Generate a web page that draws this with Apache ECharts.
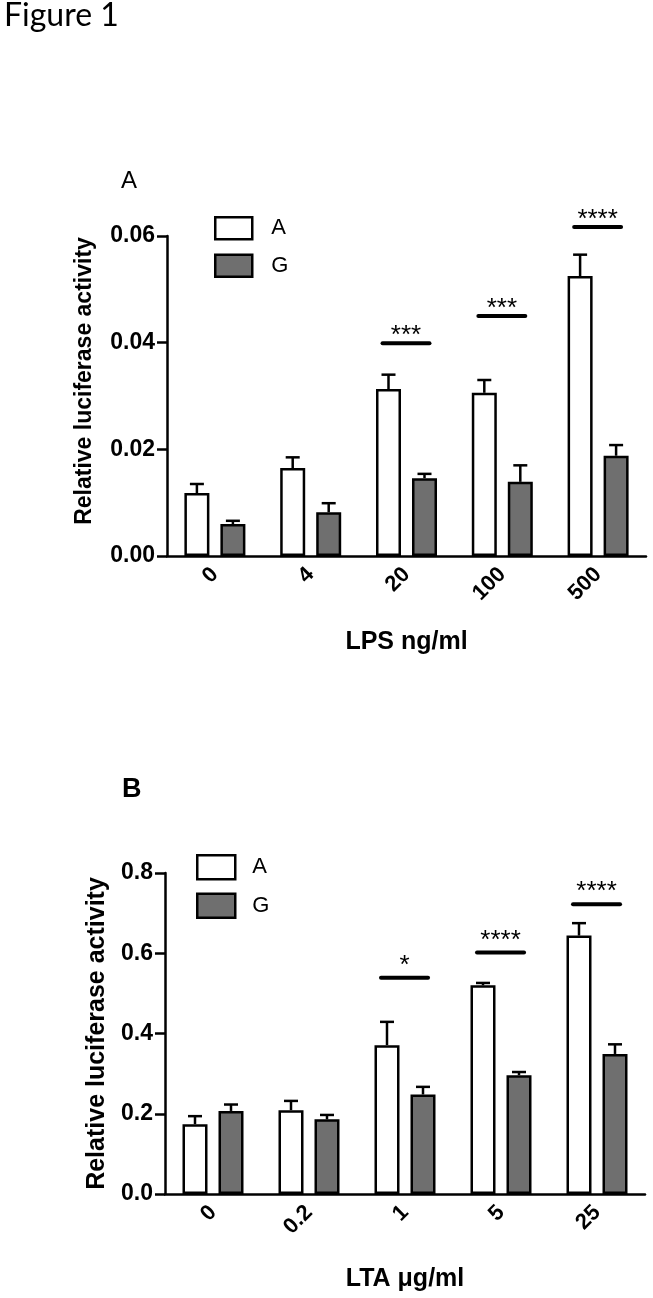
<!DOCTYPE html>
<html>
<head>
<meta charset="utf-8">
<title>Figure 1</title>
<script src="https://cdn.jsdelivr.net/npm/echarts@6/dist/echarts.min.js"></script>
<style>
  html, body { margin: 0; padding: 0; background: #fff; }
  #chart { width: 653px; height: 1298px; }
</style>
</head>
<body>
<div id="chart"></div>
<script>
// Panel A - LPS ng/ml
const lpsDoses = ['0', '4', '20', '100', '500']
const lpsMeanA = [0.0118, 0.0165, 0.0313, 0.0306, 0.0525]
const lpsErrA = [0.0017, 0.0020, 0.0027, 0.0024, 0.0040]
const lpsMeanG = [0.0060, 0.0082, 0.0146, 0.0139, 0.0188]
const lpsErrG = [0.0006, 0.0017, 0.0008, 0.0031, 0.0020]
const lpsSigIndex = [2, 3, 4]
const lpsSigLevel = [0.0399, 0.0450, 0.0617]
const lpsSigText = ['***', '***', '****']

// Panel B - LTA µg/ml
const ltaDoses = ['0', '0.2', '1', '5', '25']
const ltaMeanA = [0.174, 0.209, 0.371, 0.520, 0.644]
const ltaErrA = [0.020, 0.023, 0.058, 0.006, 0.031]
const ltaMeanG = [0.207, 0.186, 0.248, 0.296, 0.349]
const ltaErrG = [0.016, 0.011, 0.019, 0.008, 0.024]
const ltaSigIndex = [2, 3, 4]
const ltaSigLevel = [0.539, 0.602, 0.722]
const ltaSigText = ['*', '****', '****']

const FONT = '"Liberation Sans", Arial, sans-serif'
const BAR_W = 25
const BAR_OFFSET = 18 // half distance between A and G bar centres
const CAP = 7
const SIG_FROM = -0.25
const SIG_TO = 0.24
const axisLineStyle = { color: '#000', width: 2.5 }

// error bars drawn upward from the bar top
const errorBars = (gi, means, errs, side) => ({
  type: 'custom',
  xAxisIndex: gi,
  yAxisIndex: gi,
  z: 3,
  silent: true,
  data: means.map((m, i) => [i, m, errs[i]]),
  renderItem: (params, api) => {
    const base = api.coord([api.value(0), api.value(1)])
    const top = api.coord([api.value(0), api.value(1) + api.value(2)])
    const x = base[0] + side * BAR_OFFSET
    const style = { stroke: '#000', lineWidth: 2.5 }
    return {
      type: 'group',
      children: [
        { type: 'line', shape: { x1: x, y1: base[1], x2: x, y2: top[1] }, style },
        { type: 'line', shape: { x1: x - CAP, y1: top[1], x2: x + CAP, y2: top[1] }, style },
      ],
    }
  },
})

// significance line + stars
const sigMarks = (gi, idx, levels, texts, lift) => ({
  type: 'custom',
  xAxisIndex: gi,
  yAxisIndex: gi,
  z: 4,
  clip: false,
  silent: true,
  data: idx.map((c, i) => [c, levels[i]]),
  renderItem: (params, api) => {
    const p = api.coord([api.value(0), api.value(1)])
    const band = api.size([1, 0])[0]
    const x1 = p[0] + SIG_FROM * band
    const x2 = p[0] + SIG_TO * band
    return {
      type: 'group',
      children: [
        {
          type: 'line',
          shape: { x1, y1: p[1], x2, y2: p[1] },
          style: { stroke: '#000', lineWidth: 4, lineCap: 'round' },
        },
        {
          type: 'text',
          x: (x1 + x2) / 2,
          y: p[1] - lift,
          style: {
            text: texts[params.dataIndex],
            fill: '#000',
            fontFamily: FONT,
            fontSize: 26,
            align: 'center',
            verticalAlign: 'middle',
          },
        },
      ],
    }
  },
})

const barPair = (gi, meanA, meanG) => [
  {
    name: 'A',
    type: 'bar',
    xAxisIndex: gi,
    yAxisIndex: gi,
    barWidth: BAR_W,
    barGap: '44%',
    data: meanA,
    itemStyle: { color: '#fff', borderColor: '#000', borderWidth: 2.5 },
  },
  {
    name: 'G',
    type: 'bar',
    xAxisIndex: gi,
    yAxisIndex: gi,
    barWidth: BAR_W,
    barGap: '44%',
    data: meanG,
    itemStyle: { color: '#6f6f6f', borderColor: '#000', borderWidth: 2.5 },
  },
]

const xAxisFor = (gi, cats, name, gap) => ({
  type: 'category',
  gridIndex: gi,
  data: cats,
  name,
  nameLocation: 'middle',
  nameGap: gap,
  nameTextStyle: { fontFamily: FONT, fontWeight: 'bold', fontSize: 25, color: '#000' },
  axisLine: { lineStyle: axisLineStyle },
  axisTick: { alignWithLabel: true, length: 8, lineStyle: axisLineStyle },
  axisLabel: {
    interval: 0,
    rotate: 45,
    margin: 15,
    fontFamily: FONT,
    fontWeight: 'bold',
    fontSize: 22,
    color: '#000',
  },
})

const yAxisFor = (gi, max, step, digits, nameSize, gap, shift) => ({
  type: 'value',
  gridIndex: gi,
  min: 0,
  max,
  interval: step,
  name: 'Relative luciferase activity',
  nameLocation: 'middle',
  nameGap: gap,
  nameTextStyle: {
    fontFamily: FONT,
    fontWeight: 'bold',
    fontSize: nameSize,
    color: '#000',
    padding: [0, 0, 0, shift],
  },
  axisLine: { show: true, lineStyle: axisLineStyle },
  axisTick: { show: true, length: 10, lineStyle: axisLineStyle },
  axisLabel: {
    margin: 12,
    formatter: (v) => v.toFixed(digits),
    fontFamily: FONT,
    fontWeight: 'bold',
    fontSize: 23,
    color: '#000',
  },
  splitLine: { show: false },
})

const legendFor = (left, top, w, h, gap, textPad) => ({
  data: ['A', 'G'],
  orient: 'vertical',
  left,
  top,
  padding: 0,
  icon: 'rect',
  itemWidth: w,
  itemHeight: h,
  itemGap: gap,
  selectedMode: false,
  itemStyle: { borderColor: '#000', borderWidth: 2.5 },
  textStyle: {
    fontFamily: FONT,
    fontSize: 22,
    color: '#000',
    lineHeight: h,
    padding: [0, 0, 0, textPad],
  },
})

const chart = echarts.init(document.getElementById('chart'))

chart.setOption({
  animation: false,
  backgroundColor: '#fff',
  title: [
    {
      text: 'Figure 1',
      left: 4,
      top: 0,
      padding: 0,
      textStyle: { fontFamily: 'Lato', fontSize: 32, fontWeight: 'normal', color: '#000' },
    },
    {
      text: 'A',
      left: 121,
      top: 169,
      padding: 0,
      textStyle: { fontFamily: FONT, fontSize: 24, fontWeight: 'normal', color: '#000' },
    },
    {
      text: 'B',
      left: 122,
      top: 776,
      padding: 0,
      textStyle: { fontFamily: FONT, fontSize: 27, fontWeight: 'bold', color: '#000' },
    },
  ],
  legend: [legendFor(214, 216, 37, 22, 13, 14), legendFor(196, 854, 38, 24, 12, 12)],
  grid: [
    { left: 167, top: 236, right: 7, height: 320 },
    { left: 165, top: 873, right: 8, height: 321 },
  ],
  xAxis: [xAxisFor(0, lpsDoses, 'LPS ng/ml', 74), xAxisFor(1, ltaDoses, 'LTA \u03bcg/ml', 73)],
  yAxis: [yAxisFor(0, 0.06, 0.02, 2, 23, 71, 30), yAxisFor(1, 0.8, 0.2, 1, 25, 55, 0)],
  series: [
    ...barPair(0, lpsMeanA, lpsMeanG),
    errorBars(0, lpsMeanA, lpsErrA, -1),
    errorBars(0, lpsMeanG, lpsErrG, 1),
    sigMarks(0, lpsSigIndex, lpsSigLevel, lpsSigText, 7),
    ...barPair(1, ltaMeanA, ltaMeanG),
    errorBars(1, ltaMeanA, ltaErrA, -1),
    errorBars(1, ltaMeanG, ltaErrG, 1),
    sigMarks(1, ltaSigIndex, ltaSigLevel, ltaSigText, 12),
  ],
})
</script>
</body>
</html>
